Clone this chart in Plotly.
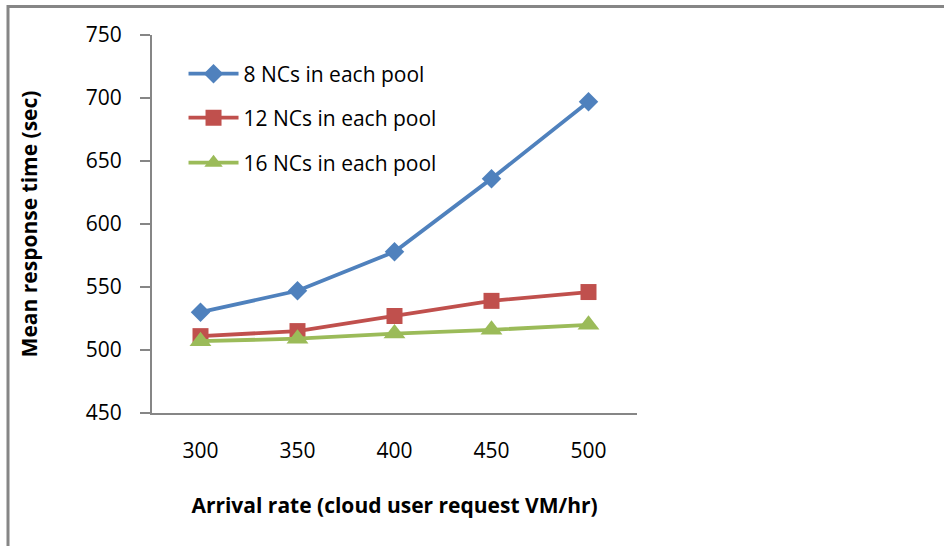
import plotly.graph_objects as go

categories = ["300", "350", "400", "450", "500"]
s8 = [530, 547, 578, 636, 697]
s12 = [511, 515, 527, 539, 546]
s16 = [507, 509, 513, 516, 520]
names = ["8 NCs in each pool", "12 NCs in each pool", "16 NCs in each pool"]
colors = ["#4F81BD", "#C0504D", "#9BBB59"]
symbols = ["diamond", "square", "triangle-up"]
yticks = [450, 500, 550, 600, 650, 700, 750]

FONT = "'Open Sans', Lato, sans-serif"

fig = go.Figure()
legend_ids = ["legend", "legend2", "legend3"]
msizes = [15, 16, 19]
for i, (vals, nm) in enumerate(zip([s8, s12, s16], names)):
    fig.add_trace(go.Scatter(
        x=categories, y=vals, name=nm, mode="lines+markers",
        line=dict(color=colors[i], width=3.8),
        marker=dict(symbol=symbols[i], size=msizes[i], color=colors[i]),
        legend=legend_ids[i], showlegend=True,
    ))

leg_common = dict(font=dict(family=FONT, size=21, color="#000000"),
                  bgcolor="rgba(0,0,0,0)", itemwidth=50,
                  xanchor="left", yanchor="middle", x=0.065)
fig.update_layout(
    width=944, height=546,
    margin=dict(l=152, r=307, t=35, b=133),
    paper_bgcolor="white", plot_bgcolor="white",
    showlegend=True,
    font=dict(family=FONT, size=21, color="#000000"),
    legend=dict(**leg_common, y=1 - (74 - 35) / 378),
    legend2=dict(**leg_common, y=1 - (118 - 35) / 378),
    legend3=dict(**leg_common, y=1 - (163 - 35) / 378),
    xaxis=dict(
        type="category", range=[-0.5, 4.5], showgrid=False,
        showline=True, linecolor="#868686", linewidth=2,
        ticks="", tickfont=dict(size=21, family=FONT),
        ticklabelstandoff=18,
        title=dict(text="<b>Arrival rate (cloud user request VM/hr)</b>",
                   font=dict(size=21, family=FONT), standoff=35),
    ),
    yaxis=dict(
        range=[450, 750], tickvals=yticks, showgrid=False,
        showline=True, linecolor="#868686", linewidth=2,
        ticks="outside", ticklen=10, tickcolor="#868686", tickwidth=2,
        tickfont=dict(size=21, family=FONT), ticklabelstandoff=14,
        title=dict(text="<b>Mean response time (sec)</b>",
                   font=dict(size=21, family=FONT), standoff=42),
        zeroline=False,
    ),
    shapes=[dict(type="rect", xref="paper", yref="paper",
                 x0=-144 / 485, x1=(950 - 152) / 485,
                 y0=-200 / 378, y1=1 + 28.5 / 378,
                 line=dict(color="#868686", width=3), layer="below")],
)
fig.write_html("out.html")
